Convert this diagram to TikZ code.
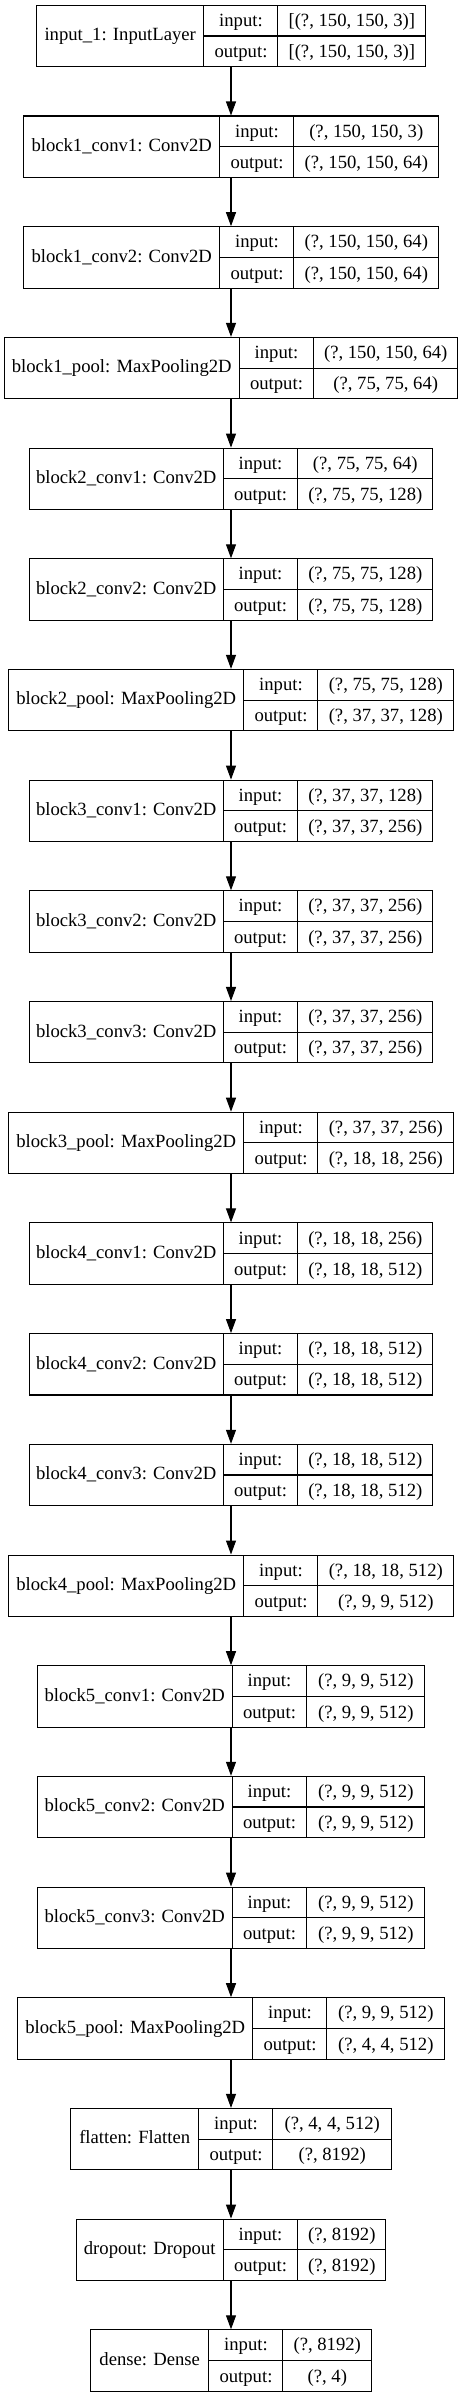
\documentclass[tikz,border=0pt]{standalone}
\usepackage{fontspec}
\setmainfont{Liberation Serif}
\usetikzlibrary{arrows.meta}
\newlength{\px}
\setlength{\px}{0.75pt}
\setlength{\arrayrulewidth}{0.8pt}
\renewcommand{\arraystretch}{1.33}
% one keras layer: name | input:/output: | shapes  (#4, #5 = cell widths in px)
\newcommand{\lyr}[5]{%
  \begin{tabular}{@{}c@{}|@{}c@{}|@{}c@{}}
    \makebox[#4\px]{#1} &
    \begin{tabular}{@{}c@{}} \makebox[73.5\px]{input:} \\ \hline \makebox[73.5\px]{output:} \end{tabular} &
    \begin{tabular}{@{}c@{}} \makebox[#5\px]{#2} \\ \hline \makebox[#5\px]{#3} \end{tabular}
  \end{tabular}}
\begin{document}
\begin{tikzpicture}[x=0.75pt,y=-0.75pt]
    \tikzset{
        layer/.style={draw, inner sep=0pt, line width=0.8pt, font=\fontsize{14}{17}\selectfont},
        arc/.style={-{Triangle[length=10.5pt,width=7.5pt]}, line width=0.8pt}
    }
    \useasboundingbox (0,0) rectangle (463,2397);
    \draw node[layer] (in1) at (231,36) {\lyr{input\_1: InputLayer}{[(?, 150, 150, 3)]}{[(?, 150, 150, 3)]}{167}{147}};
    \draw node[layer] (b1c1) at (231,146.7) {\lyr{block1\_conv1: Conv2D}{(?, 150, 150, 3)}{(?, 150, 150, 64)}{196}{144}};
    \draw node[layer] (b1c2) at (231,257.4) {\lyr{block1\_conv2: Conv2D}{(?, 150, 150, 64)}{(?, 150, 150, 64)}{196}{144}};
    \draw node[layer] (b1p) at (231,368.1) {\lyr{block1\_pool: MaxPooling2D}{(?, 150, 150, 64)}{(?, 75, 75, 64)}{235}{144}};
    \draw node[layer] (b2c1) at (231,478.8) {\lyr{block2\_conv1: Conv2D}{(?, 75, 75, 64)}{(?, 75, 75, 128)}{194}{135}};
    \draw node[layer] (b2c2) at (231,589.5) {\lyr{block2\_conv2: Conv2D}{(?, 75, 75, 128)}{(?, 75, 75, 128)}{194}{135}};
    \draw node[layer] (b2p) at (231,700.1) {\lyr{block2\_pool: MaxPooling2D}{(?, 75, 75, 128)}{(?, 37, 37, 128)}{235}{135}};
    \draw node[layer] (b3c1) at (231,810.8) {\lyr{block3\_conv1: Conv2D}{(?, 37, 37, 128)}{(?, 37, 37, 256)}{194}{135}};
    \draw node[layer] (b3c2) at (231,921.5) {\lyr{block3\_conv2: Conv2D}{(?, 37, 37, 256)}{(?, 37, 37, 256)}{194}{135}};
    \draw node[layer] (b3c3) at (231,1032.2) {\lyr{block3\_conv3: Conv2D}{(?, 37, 37, 256)}{(?, 37, 37, 256)}{194}{135}};
    \draw node[layer] (b3p) at (231,1142.9) {\lyr{block3\_pool: MaxPooling2D}{(?, 37, 37, 256)}{(?, 18, 18, 256)}{235}{135}};
    \draw node[layer] (b4c1) at (231,1253.6) {\lyr{block4\_conv1: Conv2D}{(?, 18, 18, 256)}{(?, 18, 18, 512)}{194}{135}};
    \draw node[layer] (b4c2) at (231,1364.3) {\lyr{block4\_conv2: Conv2D}{(?, 18, 18, 512)}{(?, 18, 18, 512)}{194}{135}};
    \draw node[layer] (b4c3) at (231,1475.0) {\lyr{block4\_conv3: Conv2D}{(?, 18, 18, 512)}{(?, 18, 18, 512)}{194}{135}};
    \draw node[layer] (b4p) at (231,1585.7) {\lyr{block4\_pool: MaxPooling2D}{(?, 18, 18, 512)}{(?, 9, 9, 512)}{235}{135}};
    \draw node[layer] (b5c1) at (231,1696.4) {\lyr{block5\_conv1: Conv2D}{(?, 9, 9, 512)}{(?, 9, 9, 512)}{195}{118}};
    \draw node[layer] (b5c2) at (231,1807.0) {\lyr{block5\_conv2: Conv2D}{(?, 9, 9, 512)}{(?, 9, 9, 512)}{195}{118}};
    \draw node[layer] (b5c3) at (231,1917.7) {\lyr{block5\_conv3: Conv2D}{(?, 9, 9, 512)}{(?, 9, 9, 512)}{195}{118}};
    \draw node[layer] (b5p) at (231,2028.4) {\lyr{block5\_pool: MaxPooling2D}{(?, 9, 9, 512)}{(?, 4, 4, 512)}{235}{117}};
    \draw node[layer] (flat) at (231,2139.1) {\lyr{flatten: Flatten}{(?, 4, 4, 512)}{(?, 8192)}{128}{118}};
    \draw node[layer] (drop) at (231,2249.8) {\lyr{dropout: Dropout}{(?, 8192)}{(?, 8192)}{147}{88}};
    \draw node[layer] (dense) at (231,2360.5) {\lyr{dense: Dense}{(?, 8192)}{(?, 4)}{118}{88}};
    \foreach \x/\y in {%
        in1/b1c1,b1c1/b1c2,b1c2/b1p,b1p/b2c1,b2c1/b2c2,b2c2/b2p,b2p/b3c1,%
        b3c1/b3c2,b3c2/b3c3,b3c3/b3p,b3p/b4c1,b4c1/b4c2,b4c2/b4c3,b4c3/b4p,%
        b4p/b5c1,b5c1/b5c2,b5c2/b5c3,b5c3/b5p,b5p/flat,flat/drop,drop/dense%
    }
    {
        \draw[arc] (\x) -- (\y);
    }
\end{tikzpicture}
\end{document}
